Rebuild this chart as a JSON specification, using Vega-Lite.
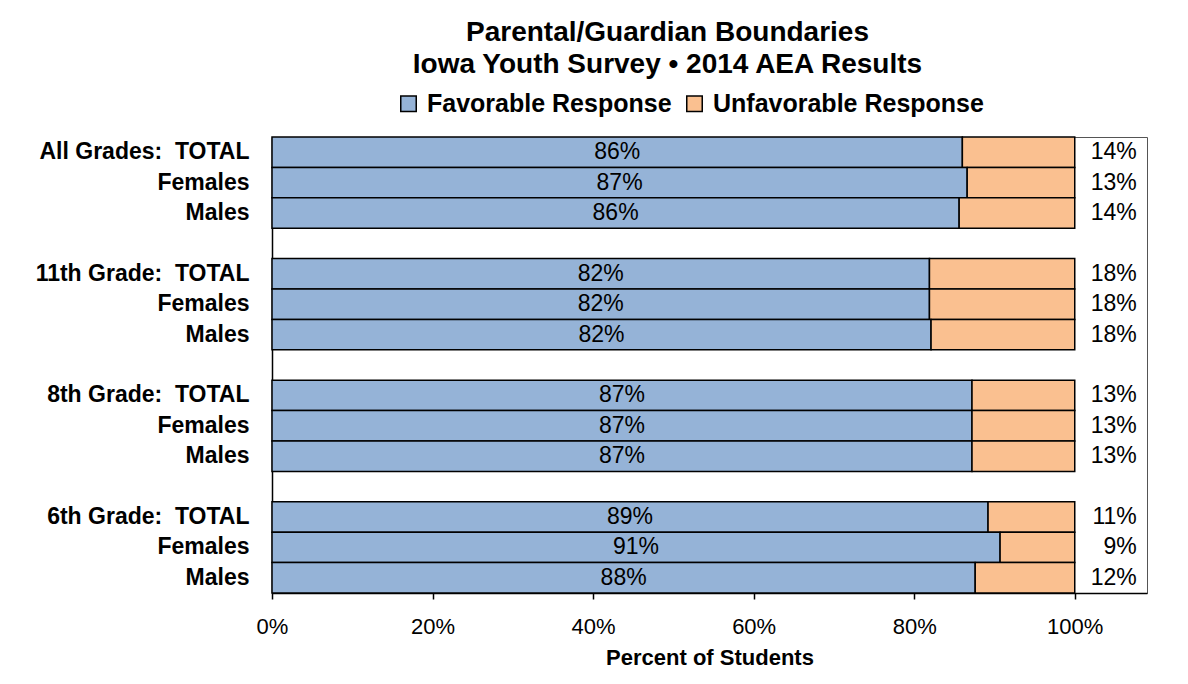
{
  "$schema": "https://vega.github.io/schema/vega-lite/v6.json",
  "width": 875,
  "height": 456,
  "autosize": {"type": "none"},
  "padding": {"left": 272, "top": 137, "right": 41, "bottom": 91},
  "background": "white",
  "title": {
    "text": ["Parental/Guardian Boundaries", "Iowa Youth Survey • 2014 AEA Results"],
    "font": "Liberation Sans",
    "fontSize": 28,
    "fontWeight": "bold",
    "color": "black",
    "anchor": "middle",
    "dx": -42,
    "lineHeight": 32,
    "offset": 12
  },
  "config": {
    "font": "Liberation Sans",
    "view": {"stroke": "#555", "strokeWidth": 1}
  },
  "data": {
    "values": [
      {"row": "All Grades:\u00a0\u00a0TOTAL", "response": "Favorable Response", "value": 0.860},
      {"row": "All Grades:\u00a0\u00a0TOTAL", "response": "Unfavorable Response", "value": 0.140},
      {"row": "Females ", "response": "Favorable Response", "value": 0.866},
      {"row": "Females ", "response": "Unfavorable Response", "value": 0.134},
      {"row": "Males ", "response": "Favorable Response", "value": 0.856},
      {"row": "Males ", "response": "Unfavorable Response", "value": 0.144},
      {"row": "11th Grade:\u00a0\u00a0TOTAL", "response": "Favorable Response", "value": 0.819},
      {"row": "11th Grade:\u00a0\u00a0TOTAL", "response": "Unfavorable Response", "value": 0.181},
      {"row": "Females  ", "response": "Favorable Response", "value": 0.819},
      {"row": "Females  ", "response": "Unfavorable Response", "value": 0.181},
      {"row": "Males  ", "response": "Favorable Response", "value": 0.821},
      {"row": "Males  ", "response": "Unfavorable Response", "value": 0.179},
      {"row": "8th Grade:\u00a0\u00a0TOTAL", "response": "Favorable Response", "value": 0.872},
      {"row": "8th Grade:\u00a0\u00a0TOTAL", "response": "Unfavorable Response", "value": 0.128},
      {"row": "Females   ", "response": "Favorable Response", "value": 0.872},
      {"row": "Females   ", "response": "Unfavorable Response", "value": 0.128},
      {"row": "Males   ", "response": "Favorable Response", "value": 0.872},
      {"row": "Males   ", "response": "Unfavorable Response", "value": 0.128},
      {"row": "6th Grade:\u00a0\u00a0TOTAL", "response": "Favorable Response", "value": 0.892},
      {"row": "6th Grade:\u00a0\u00a0TOTAL", "response": "Unfavorable Response", "value": 0.108},
      {"row": "Females    ", "response": "Favorable Response", "value": 0.907},
      {"row": "Females    ", "response": "Unfavorable Response", "value": 0.093},
      {"row": "Males    ", "response": "Favorable Response", "value": 0.876},
      {"row": "Males    ", "response": "Unfavorable Response", "value": 0.124}
    ]
  },
  "encoding": {
    "y": {
      "field": "row",
      "type": "nominal",
      "scale": {
        "domain": ["All Grades:\u00a0\u00a0TOTAL", "Females ", "Males ", "gap1", "11th Grade:\u00a0\u00a0TOTAL", "Females  ", "Males  ", "gap2", "8th Grade:\u00a0\u00a0TOTAL", "Females   ", "Males   ", "gap3", "6th Grade:\u00a0\u00a0TOTAL", "Females    ", "Males    "],
        "paddingInner": 0,
        "paddingOuter": 0
      },
      "axis": {
        "title": null,
        "ticks": false,
        "labelExpr": "indexof(datum.label, 'gap') == 0 ? '' : trim(datum.label)",
        "labelFont": "Liberation Sans",
        "labelFontSize": 23,
        "labelFontWeight": "bold",
        "labelColor": "black",
        "labelPadding": 23,
        "labelLimit": 400,
        "domainColor": "black",
        "domainWidth": 1.5
      }
    }
  },
  "layer": [
    {
      "mark": {"type": "bar", "stroke": "black", "strokeWidth": 1.5},
      "encoding": {
        "x": {
          "field": "value",
          "type": "quantitative",
          "stack": "zero",
          "scale": {"domain": [0, 1.09], "nice": false},
          "axis": {
            "values": [0, 0.2, 0.4, 0.6, 0.8, 1],
            "format": ".0%",
            "grid": false,
            "labelFlush": false,
            "title": "Percent of Students",
            "titleFont": "Liberation Sans",
            "titleFontSize": 22,
            "titleFontWeight": "bold",
            "titleColor": "black",
            "titlePadding": 10,
            "labelFont": "Liberation Sans",
            "labelFontSize": 22,
            "labelColor": "black",
            "labelPadding": 17,
            "tickColor": "black",
            "tickSize": 6,
            "tickWidth": 1.5,
            "domainColor": "black",
            "domainWidth": 1.5
          }
        },
        "color": {
          "field": "response",
          "type": "nominal",
          "scale": {"domain": ["Favorable Response", "Unfavorable Response"], "range": ["#95B3D7", "#FAC090"]},
          "legend": {
            "title": null,
            "orient": "none",
            "direction": "horizontal",
            "legendX": 124,
            "legendY": -46,
            "symbolType": "square",
            "symbolSize": 240,
            "symbolStrokeColor": "black",
            "symbolStrokeWidth": 1.5,
            "labelFont": "Liberation Sans",
            "labelFontSize": 25,
            "labelFontWeight": "bold",
            "labelColor": "black",
            "labelOffset": 6,
            "labelLimit": 400,
            "columnPadding": 10
          }
        }
      }
    },
    {
      "transform": [{"filter": "datum.response == 'Favorable Response'"}],
      "mark": {"type": "text", "fontSize": 23, "color": "black", "font": "Liberation Sans"},
      "encoding": {
        "x": {"field": "value", "type": "quantitative", "stack": "zero", "bandPosition": 0.5},
        "text": {"field": "value", "type": "quantitative", "format": ".0%"}
      }
    },
    {
      "transform": [{"filter": "datum.response == 'Unfavorable Response'"}],
      "mark": {"type": "text", "fontSize": 23, "color": "black", "font": "Liberation Sans", "align": "right", "dx": 62},
      "encoding": {
        "x": {"datum": 1},
        "text": {"field": "value", "type": "quantitative", "format": ".0%"}
      }
    }
  ]
}
